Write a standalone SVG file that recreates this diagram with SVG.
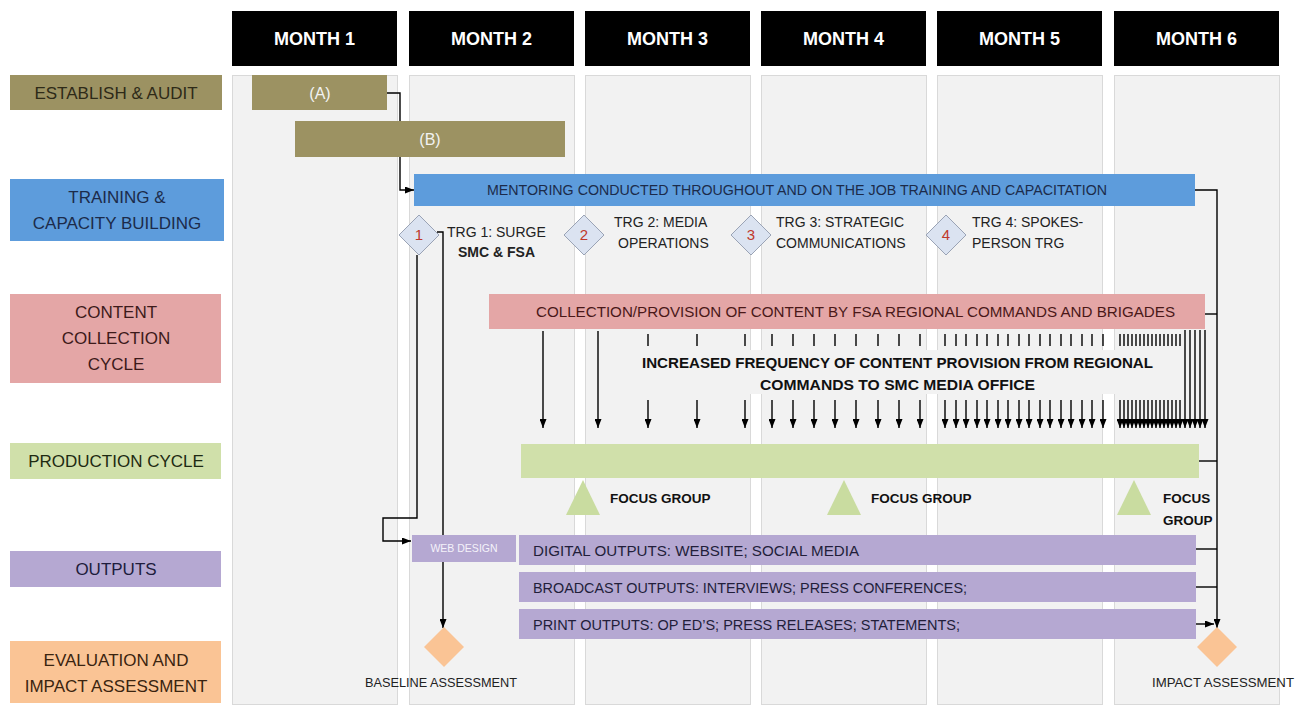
<svg xmlns="http://www.w3.org/2000/svg" width="1307" height="711" viewBox="0 0 1307 711">
<style>
text{font-family:"Liberation Sans",Arial,sans-serif;}
.panel{fill:#f2f2f2;stroke:#d9d9d9;stroke-width:1;}
.hdr{fill:#000;}
.hdrt{fill:#fff;font-size:18px;font-weight:bold;text-anchor:middle;}
.lbl{font-size:17px;text-anchor:middle;}
.olive{fill:#9c9262;}
.blue{fill:#5d9cdc;}
.pink{fill:#e4a6a6;}
.green{fill:#d0e0aa;}
.purple{fill:#b5a8d2;}
.peach{fill:#fac495;}
.conn{fill:none;stroke:#000;stroke-width:1.4;}
.tick{stroke:#000;stroke-width:1.4;}
.dia{fill:#dbe3f1;stroke:#9aa3b5;stroke-width:1;}
.num{fill:#c0392b;font-size:15px;text-anchor:middle;}
.trg{fill:#222;font-size:14px;}
.fg{fill:#111;font-size:13.5px;font-weight:bold;}
.bart{font-size:14px;}
.tri{fill:#c9dca0;}
</style>
<defs>
<marker id="ah" viewBox="0 0 9 7" refX="9" refY="3.5" markerWidth="9" markerHeight="7" orient="auto" markerUnits="userSpaceOnUse"><path d="M0,0 L9,3.5 L0,7 z" fill="#000"/></marker>
</defs>
<rect width="1307" height="711" fill="#fff"/>

<g id="columns">
<rect class="panel" x="232.5" y="75.5" width="165" height="629"/>
<rect class="panel" x="409.5" y="75.5" width="165" height="629"/>
<rect class="panel" x="585.5" y="75.5" width="165" height="629"/>
<rect class="panel" x="761.5" y="75.5" width="165" height="629"/>
<rect class="panel" x="937.5" y="75.5" width="165" height="629"/>
<rect class="panel" x="1114.5" y="75.5" width="165" height="629"/>
</g>
<g id="headers">
<rect class="hdr" x="232" y="11" width="165" height="55"/><text class="hdrt" x="314.5" y="45">MONTH 1</text>
<rect class="hdr" x="409" y="11" width="165" height="55"/><text class="hdrt" x="491.5" y="45">MONTH 2</text>
<rect class="hdr" x="585" y="11" width="165" height="55"/><text class="hdrt" x="667.5" y="45">MONTH 3</text>
<rect class="hdr" x="761" y="11" width="165" height="55"/><text class="hdrt" x="843.5" y="45">MONTH 4</text>
<rect class="hdr" x="937" y="11" width="165" height="55"/><text class="hdrt" x="1019.5" y="45">MONTH 5</text>
<rect class="hdr" x="1114" y="11" width="165" height="55"/><text class="hdrt" x="1196.5" y="45">MONTH 6</text>
</g>

<g id="row-labels">
<g id="lbl-establish"><rect class="olive" x="10" y="75" width="212" height="35"/><text class="lbl" x="116" y="99" fill="#2e2a18">ESTABLISH &amp; AUDIT</text></g>
<g id="lbl-training"><rect class="blue" x="10" y="179" width="214" height="62"/><text class="lbl" x="117" y="203" fill="#1c2b4a">TRAINING &amp;</text><text class="lbl" x="117" y="229" fill="#1c2b4a">CAPACITY BUILDING</text></g>
<g id="lbl-content"><rect class="pink" x="10" y="294" width="211" height="89"/><text class="lbl" x="116" y="318" fill="#3d1a1a">CONTENT</text><text class="lbl" x="116" y="344" fill="#3d1a1a">COLLECTION</text><text class="lbl" x="116" y="370" fill="#3d1a1a">CYCLE</text></g>
<g id="lbl-production"><rect class="green" x="10" y="443" width="211" height="36"/><text class="lbl" x="116" y="467" fill="#1e2a12">PRODUCTION CYCLE</text></g>
<g id="lbl-outputs"><rect class="purple" x="10" y="551" width="211" height="36"/><text class="lbl" x="116" y="575" fill="#201c3c">OUTPUTS</text></g>
<g id="lbl-eval"><rect class="peach" x="10" y="641" width="211" height="62"/><text class="lbl" x="116" y="666" fill="#3a2410">EVALUATION AND</text><text class="lbl" x="116" y="692" fill="#3a2410">IMPACT ASSESSMENT</text></g>
</g>

<g id="connectors">
<path class="conn" d="M387,93 H400 V190 H414" marker-end="url(#ah)"/>
<path class="conn" d="M437,232 H443 V628" marker-end="url(#ah)"/>
<path class="conn" d="M417,255 V518 H383 V541 H411" marker-end="url(#ah)"/>
<path class="conn" d="M1195,190 H1217 V628" marker-end="url(#ah)"/>
<path class="conn" d="M1205,314 H1217"/>
<path class="conn" d="M1199,461 H1217"/>
<path class="conn" d="M1196,549 H1217"/>
<path class="conn" d="M1196,587 H1217"/>
<path class="conn" d="M1196,624 H1214" marker-end="url(#ah)"/>
<g id="content-arrows">
<line class="tick" x1="543" y1="331" x2="543" y2="428" marker-end="url(#ah)"/>
<line class="tick" x1="598" y1="331" x2="598" y2="428" marker-end="url(#ah)"/>
<path class="tick" d="M648,334V346M697,334V346M745,334V346M772,334V346M793,334V346M814,334V346M835,334V346M856,334V346M878,334V346M899,334V346M920,334V346"/>
<path class="tick" d="M945,334V346M956,334V346M966,334V346M977,334V346M987,334V346M998,334V346M1008,334V346M1019,334V346M1029,334V346M1040,334V346M1050,334V346M1061,334V346M1071,334V346M1082,334V346M1092,334V346M1103,334V346"/>
<path class="tick" stroke-width="1.1" d="M1120,334V346M1124,334V346M1128,334V346M1132,334V346M1136,334V346M1140,334V346M1144,334V346M1148,334V346M1152,334V346M1156,334V346M1160,334V346M1164,334V346M1168,334V346M1172,334V346M1176,334V346M1180,334V346"/>
<line class="tick" x1="648" y1="400" x2="648" y2="428" marker-end="url(#ah)"/>
<line class="tick" x1="697" y1="400" x2="697" y2="428" marker-end="url(#ah)"/>
<line class="tick" x1="745" y1="400" x2="745" y2="428" marker-end="url(#ah)"/>
<line class="tick" x1="772" y1="400" x2="772" y2="428" marker-end="url(#ah)"/>
<line class="tick" x1="793" y1="400" x2="793" y2="428" marker-end="url(#ah)"/>
<line class="tick" x1="814" y1="400" x2="814" y2="428" marker-end="url(#ah)"/>
<line class="tick" x1="835" y1="400" x2="835" y2="428" marker-end="url(#ah)"/>
<line class="tick" x1="856" y1="400" x2="856" y2="428" marker-end="url(#ah)"/>
<line class="tick" x1="878" y1="400" x2="878" y2="428" marker-end="url(#ah)"/>
<line class="tick" x1="899" y1="400" x2="899" y2="428" marker-end="url(#ah)"/>
<line class="tick" x1="920" y1="400" x2="920" y2="428" marker-end="url(#ah)"/>
<line class="tick" x1="945" y1="400" x2="945" y2="428" marker-end="url(#ah)"/>
<line class="tick" x1="956" y1="400" x2="956" y2="428" marker-end="url(#ah)"/>
<line class="tick" x1="966" y1="400" x2="966" y2="428" marker-end="url(#ah)"/>
<line class="tick" x1="977" y1="400" x2="977" y2="428" marker-end="url(#ah)"/>
<line class="tick" x1="987" y1="400" x2="987" y2="428" marker-end="url(#ah)"/>
<line class="tick" x1="998" y1="400" x2="998" y2="428" marker-end="url(#ah)"/>
<line class="tick" x1="1008" y1="400" x2="1008" y2="428" marker-end="url(#ah)"/>
<line class="tick" x1="1019" y1="400" x2="1019" y2="428" marker-end="url(#ah)"/>
<line class="tick" x1="1029" y1="400" x2="1029" y2="428" marker-end="url(#ah)"/>
<line class="tick" x1="1040" y1="400" x2="1040" y2="428" marker-end="url(#ah)"/>
<line class="tick" x1="1050" y1="400" x2="1050" y2="428" marker-end="url(#ah)"/>
<line class="tick" x1="1061" y1="400" x2="1061" y2="428" marker-end="url(#ah)"/>
<line class="tick" x1="1071" y1="400" x2="1071" y2="428" marker-end="url(#ah)"/>
<line class="tick" x1="1082" y1="400" x2="1082" y2="428" marker-end="url(#ah)"/>
<line class="tick" x1="1092" y1="400" x2="1092" y2="428" marker-end="url(#ah)"/>
<line class="tick" x1="1103" y1="400" x2="1103" y2="428" marker-end="url(#ah)"/>
<line class="tick" stroke-width="1.1" x1="1120" y1="400" x2="1120" y2="428" marker-end="url(#ah)"/>
<line class="tick" stroke-width="1.1" x1="1124" y1="400" x2="1124" y2="428" marker-end="url(#ah)"/>
<line class="tick" stroke-width="1.1" x1="1128" y1="400" x2="1128" y2="428" marker-end="url(#ah)"/>
<line class="tick" stroke-width="1.1" x1="1132" y1="400" x2="1132" y2="428" marker-end="url(#ah)"/>
<line class="tick" stroke-width="1.1" x1="1136" y1="400" x2="1136" y2="428" marker-end="url(#ah)"/>
<line class="tick" stroke-width="1.1" x1="1140" y1="400" x2="1140" y2="428" marker-end="url(#ah)"/>
<line class="tick" stroke-width="1.1" x1="1144" y1="400" x2="1144" y2="428" marker-end="url(#ah)"/>
<line class="tick" stroke-width="1.1" x1="1148" y1="400" x2="1148" y2="428" marker-end="url(#ah)"/>
<line class="tick" stroke-width="1.1" x1="1152" y1="400" x2="1152" y2="428" marker-end="url(#ah)"/>
<line class="tick" stroke-width="1.1" x1="1156" y1="400" x2="1156" y2="428" marker-end="url(#ah)"/>
<line class="tick" stroke-width="1.1" x1="1160" y1="400" x2="1160" y2="428" marker-end="url(#ah)"/>
<line class="tick" stroke-width="1.1" x1="1164" y1="400" x2="1164" y2="428" marker-end="url(#ah)"/>
<line class="tick" stroke-width="1.1" x1="1168" y1="400" x2="1168" y2="428" marker-end="url(#ah)"/>
<line class="tick" stroke-width="1.1" x1="1172" y1="400" x2="1172" y2="428" marker-end="url(#ah)"/>
<line class="tick" stroke-width="1.1" x1="1176" y1="400" x2="1176" y2="428" marker-end="url(#ah)"/>
<line class="tick" stroke-width="1.1" x1="1180" y1="400" x2="1180" y2="428" marker-end="url(#ah)"/>
<line class="tick" stroke-width="1.1" x1="1185" y1="330" x2="1185" y2="428" marker-end="url(#ah)"/>
<line class="tick" stroke-width="1.1" x1="1190" y1="330" x2="1190" y2="428" marker-end="url(#ah)"/>
<line class="tick" stroke-width="1.1" x1="1195" y1="330" x2="1195" y2="428" marker-end="url(#ah)"/>
<line class="tick" stroke-width="1.1" x1="1200" y1="330" x2="1200" y2="428" marker-end="url(#ah)"/>
<line class="tick" stroke-width="1.1" x1="1205" y1="330" x2="1205" y2="428" marker-end="url(#ah)"/>
</g>
</g>

<g id="bar-a"><rect class="olive" x="252" y="75" width="135" height="35"/><text x="320" y="99" font-size="16" fill="#f2f2f2" text-anchor="middle">(A)</text></g>
<g id="bar-b"><rect class="olive" x="295" y="121" width="270" height="36"/><text x="430" y="145" font-size="16" fill="#f2f2f2" text-anchor="middle">(B)</text></g>
<g id="bar-mentoring"><rect class="blue" x="414" y="174" width="781" height="32"/><text class="bart" x="487" y="195" fill="#1c2b4a" textLength="620" lengthAdjust="spacingAndGlyphs">MENTORING CONDUCTED THROUGHOUT  AND ON THE JOB TRAINING AND CAPACITATION</text></g>

<g id="trg1"><path class="dia" d="M419,215 L439,235 L419,255 L399,235 Z"/><text class="num" x="419" y="240">1</text><text class="trg" x="447" y="237">TRG 1: SURGE</text><text class="trg" x="458" y="257" font-weight="bold" fill="#111">SMC &amp; FSA</text></g>
<g id="trg2"><path class="dia" d="M584,215 L604,235 L584,255 L564,235 Z"/><text class="num" x="584" y="240">2</text><text class="trg" x="614" y="227">TRG 2: MEDIA</text><text class="trg" x="618" y="248">OPERATIONS</text></g>
<g id="trg3"><path class="dia" d="M751,215 L771,235 L751,255 L731,235 Z"/><text class="num" x="751" y="240">3</text><text class="trg" x="776" y="227">TRG 3: STRATEGIC</text><text class="trg" x="776" y="248">COMMUNICATIONS</text></g>
<g id="trg4"><path class="dia" d="M946,215 L966,235 L946,255 L926,235 Z"/><text class="num" x="946" y="240">4</text><text class="trg" x="972" y="227">TRG 4: SPOKES-</text><text class="trg" x="972" y="248">PERSON TRG</text></g>

<g id="bar-content"><rect class="pink" x="489" y="294" width="716" height="35"/><text x="536" y="317" font-size="15" fill="#4a1818" textLength="639" lengthAdjust="spacingAndGlyphs">COLLECTION/PROVISION OF CONTENT BY FSA REGIONAL COMMANDS AND BRIGADES</text></g>
<g id="freq-label">
<rect x="636" y="350" width="524" height="44" fill="#f2f2f2"/>
<text x="642" y="368" font-size="15" font-weight="bold" fill="#111" textLength="511" lengthAdjust="spacingAndGlyphs">INCREASED FREQUENCY OF CONTENT PROVISION FROM REGIONAL</text>
<text x="760" y="390" font-size="15" font-weight="bold" fill="#111" textLength="275" lengthAdjust="spacingAndGlyphs">COMMANDS TO SMC MEDIA OFFICE</text>
</g>

<g id="bar-production"><rect class="green" x="521" y="444" width="678" height="34"/></g>
<g id="focus1"><path class="tri" d="M583,480 L600,515 L566,515 Z"/><text class="fg" x="610" y="503">FOCUS GROUP</text></g>
<g id="focus2"><path class="tri" d="M844,480 L861,515 L827,515 Z"/><text class="fg" x="871" y="503">FOCUS GROUP</text></g>
<g id="focus3"><path class="tri" d="M1134,480 L1151,515 L1117,515 Z"/><text class="fg" x="1163" y="503">FOCUS</text><text class="fg" x="1163" y="525">GROUP</text></g>

<g id="web-design"><rect class="purple" x="412" y="535" width="104" height="27"/><text x="464" y="552" font-size="10.5" fill="#f4f2fa" text-anchor="middle">WEB DESIGN</text></g>
<g id="bar-digital"><rect class="purple" x="519" y="535" width="677" height="30"/><text x="533" y="556" font-size="15" fill="#221e3a" textLength="326" lengthAdjust="spacingAndGlyphs">DIGITAL OUTPUTS: WEBSITE; SOCIAL MEDIA</text></g>
<g id="bar-broadcast"><rect class="purple" x="519" y="572" width="677" height="30"/><text x="533" y="593" font-size="15" fill="#221e3a" textLength="434" lengthAdjust="spacingAndGlyphs">BROADCAST OUTPUTS: INTERVIEWS; PRESS CONFERENCES;</text></g>
<g id="bar-print"><rect class="purple" x="519" y="609" width="677" height="30"/><text x="533" y="630" font-size="15" fill="#221e3a" textLength="427" lengthAdjust="spacingAndGlyphs">PRINT OUTPUTS: OP ED’S; PRESS RELEASES; STATEMENTS;</text></g>

<g id="baseline"><path class="peach" d="M444,627 L464,647 L444,667 L424,647 Z"/><text x="441" y="687" font-size="13" fill="#222" text-anchor="middle" textLength="152" lengthAdjust="spacingAndGlyphs">BASELINE ASSESSMENT</text></g>
<g id="impact"><path class="peach" d="M1217,627 L1237,647 L1217,667 L1197,647 Z"/><text x="1223" y="687" font-size="13" fill="#222" text-anchor="middle" textLength="142" lengthAdjust="spacingAndGlyphs">IMPACT ASSESSMENT</text></g>
</svg>
